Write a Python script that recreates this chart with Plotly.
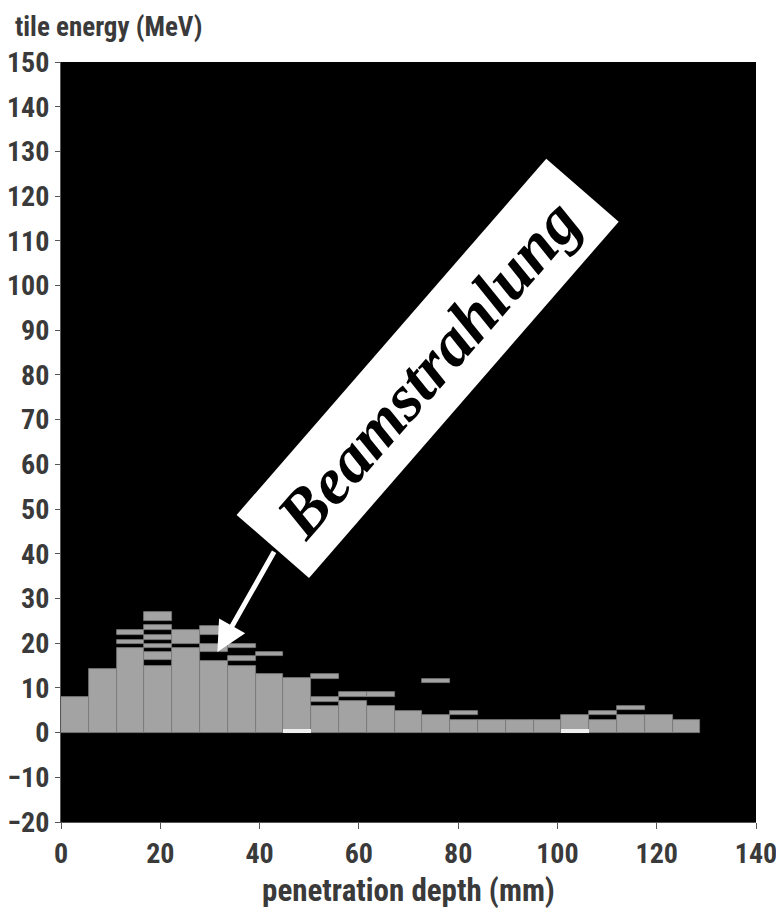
import plotly.graph_objects as go

# ---- data ----
bin_width = 5.6  # mm, width of one depth layer
depth_start = [0.0, 5.6, 11.2, 16.8, 22.4, 28.0, 33.6, 39.2, 44.8, 50.4, 56.0, 61.6,
               67.2, 72.8, 78.4, 84.0, 89.6, 95.2, 100.8, 106.4, 112.0, 117.6, 123.2]

# filled energy intervals (MeV) per depth layer: (low, high)
tile_segments = [
    [(0, 8.0)],
    [(0, 14.2)],
    [(0, 18.9), (19.8, 20.8), (21.9, 22.9)],
    [(0, 15.0), (16.2, 18.1), (18.9, 19.8), (20.8, 21.9), (22.9, 24.0), (24.9, 26.9)],
    [(0, 18.9), (19.8, 22.9)],
    [(0, 16.1), (18.1, 19.8), (21.9, 23.9)],
    [(0, 15.0), (16.1, 17.1), (18.9, 19.8)],
    [(0, 13.0), (17.1, 18.1)],
    [(0, 12.1)],
    [(0, 5.9), (6.9, 7.9), (12.0, 13.0)],
    [(0, 7.0), (8.0, 9.0)],
    [(0, 5.9), (8.0, 9.0)],
    [(0, 4.9)],
    [(0, 3.9), (11.0, 12.0)],
    [(0, 2.9), (4.0, 4.9)],
    [(0, 2.9)],
    [(0, 2.9)],
    [(0, 2.9)],
    [(0, 4.0)],
    [(0, 2.9), (4.0, 4.9)],
    [(0, 4.0), (5.0, 5.9)],
    [(0, 4.0)],
    [(0, 2.9)],
]

# lighter bottom tiles (index of layer, low, high)
bright_tiles = [(8, 0, 0.8), (18, 0, 0.8)]

x_ticks = [0, 20, 40, 60, 80, 100, 120, 140]
y_ticks = list(range(-20, 151, 10))

# ---- build ----
xs, bases, heights = [], [], []
for x0, segs in zip(depth_start, tile_segments):
    for lo, hi in segs:
        xs.append(x0 + bin_width / 2)
        bases.append(lo)
        heights.append(hi - lo)

bx = [depth_start[i] + bin_width / 2 for i, _, _ in bright_tiles]
bb = [lo for _, lo, _ in bright_tiles]
bh = [hi - lo for _, lo, hi in bright_tiles]

fig = go.Figure()
fig.add_trace(go.Bar(
    x=xs, y=heights, base=bases, width=bin_width,
    marker=dict(color="#a3a3a3", line=dict(color="#7a7a7a", width=0.8)),
    hoverinfo="skip", showlegend=False))
fig.add_trace(go.Bar(
    x=bx, y=bh, base=bb, width=bin_width,
    marker=dict(color="#eeeeee", line=dict(width=0)),
    hoverinfo="skip", showlegend=False))

FONT = "Liberation Sans Narrow, Roboto Condensed, Arial Narrow, Liberation Sans, sans-serif"
TXT = "#3a3a3a"

fig.update_layout(
    width=776, height=909,
    margin=dict(l=61, r=20, t=62, b=87),
    paper_bgcolor="white", plot_bgcolor="black",
    barmode="overlay", bargap=0,
    showlegend=False,
    xaxis=dict(range=[0, 140], tickvals=x_ticks, ticks="outside", ticklen=6,
               tickcolor="#555", tickwidth=1, showline=True, linecolor="#555",
               showgrid=False, zeroline=False, automargin=False,
               ticklabeloverflow="allow",
               tickfont=dict(family=FONT, size=28, color=TXT, weight="bold"),
               title=dict(text="penetration depth (mm)", standoff=22,
                          font=dict(family=FONT, size=31, color=TXT, weight="bold"))),
    yaxis=dict(range=[-20, 150], tickvals=y_ticks, ticks="outside", ticklen=5,
               tickcolor="#555", tickwidth=1, showline=True, linecolor="#555",
               showgrid=False, zeroline=False, automargin=False,
               ticklabeloverflow="allow",
               tickfont=dict(family=FONT, size=28, color=TXT, weight="bold")),
)

# y-axis title at top-left
fig.add_annotation(
    text="tile energy (MeV)", xref="paper", yref="paper",
    x=-0.0695, y=1.046, xanchor="left", yanchor="middle", showarrow=False,
    font=dict(family=FONT, size=27, color=TXT, weight="bold"))

# arrow
fig.add_annotation(
    x=31.5, y=18.0, ax=43.1, ay=40.8, xref="x", yref="y", axref="x", ayref="y",
    text="", showarrow=True, arrowhead=2, arrowsize=1.2, arrowwidth=5,
    arrowcolor="white")

# label box
fig.add_annotation(
    text="Beamstrahlung", x=73.8, y=81.5, xref="x", yref="y",
    showarrow=False, textangle=-49, bgcolor="white", borderpad=0,
    width=471, height=95, align="center", valign="middle",
    xanchor="center", yanchor="middle",
    font=dict(family="Liberation Serif, Times New Roman, Times, serif", size=66,
              color="black", weight="bold", style="italic"))

fig.write_html("out.html")
